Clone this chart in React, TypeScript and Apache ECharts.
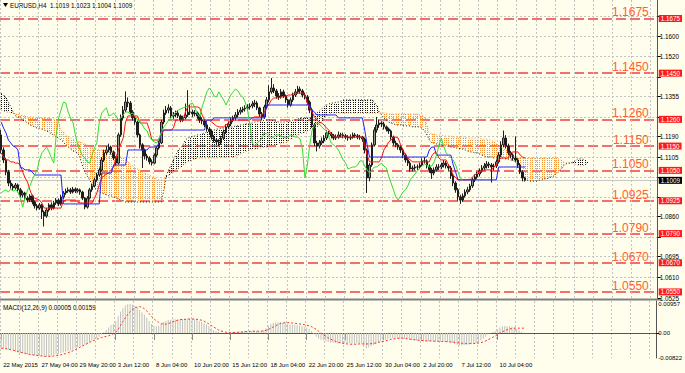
import React, { useEffect, useRef } from 'react';
import * as echarts from 'echarts';

// ---------- texts ----------
const symbolTitle = 'EURUSD,H4  1.1019 1.1023 1.1004 1.1009';
const macdTitle = 'MACD(12,26,9) 0.00005 0.00159';
const xLabels = ['22 May 2015', '27 May 04:00', '29 May 20:00', '3 Jun 12:00', '8 Jun 04:00', '10 Jun 20:00', '15 Jun 12:00', '18 Jun 04:00', '22 Jun 20:00', '25 Jun 12:00', '30 Jun 04:00', '2 Jul 20:00', '7 Jul 12:00', '10 Jul 04:00'];
const labelEvery = 16; // bars between time labels
const gridEvery = 8; // bars between vertical grid lines

// ---------- axes ----------
const priceTicks = [1.1685, 1.16, 1.152, 1.1435, 1.1355, 1.127, 1.119, 1.1105, 1.102, 1.094, 1.086, 1.0775, 1.0695, 1.061, 1.0525];
// tick labels not covered by the coloured price boxes
const priceTickLabels = [1.16, 1.152, 1.1355, 1.119, 1.1105, 1.086, 1.0695, 1.061, 1.0525];
const priceMin = 1.0525;
const priceMax = 1.1751;
const levels = [1.1675, 1.145, 1.126, 1.115, 1.105, 1.0925, 1.079, 1.067, 1.055];
const macdTicks = [0.00957, 0, -0.00822];
const macdMin = -0.00825;
const macdMax = 0.01056;
const slotCount = 275; // bar slots across chart width (incl. right shift)
const bidPrice = 1.1009;

// ---------- candles (H4) ----------
const firstOpen = 1.1196;
const closes = [
  1.1134, 1.1093, 1.1043, 1.0998, 1.0986, 1.0978, 1.099, 1.097, 1.0949, 1.0957,
  1.0936, 1.0928, 1.0945, 1.092, 1.0904, 1.0895, 1.0908, 1.0879, 1.0862, 1.0887,
  1.0908, 1.0895, 1.0916, 1.0928, 1.0912, 1.0941, 1.0957, 1.0965, 1.097, 1.0961,
  1.0973, 1.0965, 1.097, 1.0961, 1.0936, 1.0899, 1.0936, 1.097, 1.0986, 1.1011,
  1.1031, 1.1052, 1.1093, 1.1122, 1.1134, 1.1146, 1.1126, 1.1101, 1.108, 1.1196,
  1.1266, 1.1298, 1.1331, 1.1327, 1.129, 1.1266, 1.1249, 1.1196, 1.1155, 1.1134,
  1.1109, 1.1101, 1.1085, 1.108, 1.1113, 1.1142, 1.1163, 1.1249, 1.1286, 1.1298,
  1.1307, 1.1274, 1.1278, 1.1286, 1.1274, 1.1257, 1.1266, 1.1278, 1.129, 1.129,
  1.1282, 1.1286, 1.1274, 1.1257, 1.1253, 1.1237, 1.122, 1.1212, 1.1187, 1.1175,
  1.1167, 1.1163, 1.1183, 1.1208, 1.1229, 1.1241, 1.1257, 1.1266, 1.1278, 1.129,
  1.1298, 1.1303, 1.1307, 1.1311, 1.1315, 1.1323, 1.1327, 1.1307, 1.1282, 1.127,
  1.1311, 1.134, 1.1373, 1.1389, 1.1377, 1.1356, 1.1352, 1.1373, 1.1356, 1.134,
  1.1319, 1.134, 1.136, 1.1373, 1.1385, 1.1377, 1.136, 1.1352, 1.1331, 1.1298,
  1.1237, 1.1163, 1.115, 1.1163, 1.1171, 1.1183, 1.1204, 1.12, 1.1192, 1.1183,
  1.1187, 1.1196, 1.1196, 1.1192, 1.1187, 1.1183, 1.1187, 1.1196, 1.1192, 1.1187,
  1.1187, 1.1179, 1.1134, 1.1019, 1.1072, 1.1155, 1.1216, 1.1237, 1.1245, 1.1241,
  1.1229, 1.122, 1.1212, 1.1187, 1.1163, 1.1155, 1.1146, 1.1134, 1.1113, 1.1093,
  1.108, 1.1056, 1.106, 1.1064, 1.1064, 1.1072, 1.1089, 1.1089, 1.1068, 1.1052,
  1.1039, 1.1052, 1.1064, 1.1064, 1.1072, 1.108, 1.1068, 1.106, 1.1027, 1.0998,
  1.097, 1.0941, 1.0928, 1.0945, 1.0961, 1.097, 1.0986, 1.1011, 1.1023, 1.1035,
  1.1048, 1.106, 1.1068, 1.1076, 1.1072, 1.1064, 1.1068, 1.1085, 1.1113, 1.1155,
  1.1183, 1.115, 1.1122, 1.1113, 1.1101, 1.1093, 1.1072, 1.1043, 1.1019, 1.1009,
];
const highs = [
  1.1216, 1.1145, 1.1101, 1.1052, 1.101, 1.0995, 1.0998, 1.0996, 1.0978, 1.0966,
  1.0962, 1.0944, 1.0952, 1.095, 1.0926, 1.0912, 1.0916, 1.0912, 1.0885, 1.0895,
  1.0915, 1.0918, 1.0925, 1.0936, 1.0935, 1.095, 1.0965, 1.0975, 1.098, 1.0978,
  1.0982, 1.098, 1.0977, 1.0975, 1.0966, 1.094, 1.0944, 1.0978, 1.0995, 1.102,
  1.104, 1.1062, 1.1105, 1.1135, 1.115, 1.116, 1.1152, 1.1132, 1.1108, 1.1205,
  1.128, 1.1315, 1.1375, 1.135, 1.1335, 1.1298, 1.1275, 1.1255, 1.1202, 1.1162,
  1.114, 1.1118, 1.1108, 1.1095, 1.112, 1.115, 1.1172, 1.1258, 1.13, 1.1315,
  1.1322, 1.1315, 1.129, 1.1296, 1.1298, 1.128, 1.1275, 1.1325, 1.138, 1.132,
  1.13, 1.1298, 1.1292, 1.128, 1.1268, 1.1262, 1.1245, 1.1228, 1.1218, 1.1195,
  1.1182, 1.1178, 1.1192, 1.1218, 1.124, 1.1252, 1.1268, 1.1275, 1.129, 1.1302,
  1.131, 1.1312, 1.1318, 1.1322, 1.1326, 1.1335, 1.134, 1.1335, 1.1312, 1.129,
  1.132, 1.1352, 1.14, 1.143, 1.1405, 1.1385, 1.1368, 1.1385, 1.1382, 1.1362,
  1.1345, 1.135, 1.137, 1.1385, 1.1398, 1.1395, 1.1385, 1.137, 1.136, 1.1338,
  1.1305, 1.1245, 1.1172, 1.1175, 1.1185, 1.1195, 1.1215, 1.1212, 1.1208, 1.12,
  1.1198, 1.121, 1.1205, 1.1205, 1.12, 1.1195, 1.1198, 1.1206, 1.1204, 1.12,
  1.1196, 1.1192, 1.1185, 1.114, 1.108, 1.1165, 1.1228, 1.127, 1.1258, 1.1252,
  1.125, 1.1235, 1.1226, 1.1218, 1.1193, 1.1172, 1.1162, 1.1152, 1.114, 1.112,
  1.11, 1.1088, 1.107, 1.1075, 1.1074, 1.1082, 1.11, 1.1105, 1.1095, 1.1075,
  1.106, 1.1062, 1.1075, 1.1076, 1.1082, 1.1092, 1.1088, 1.1075, 1.1068, 1.1035,
  1.1005, 1.0978, 1.095, 1.0955, 1.0972, 1.0982, 1.0995, 1.102, 1.1034, 1.1045,
  1.1058, 1.1072, 1.108, 1.1088, 1.1085, 1.108, 1.1078, 1.1095, 1.1125, 1.117,
  1.1214, 1.1195, 1.116, 1.113, 1.112, 1.119, 1.11, 1.108, 1.105, 1.1023,
];
const lows = [
  1.112, 1.108, 1.103, 1.0985, 1.0975, 1.0965, 1.097, 1.096, 1.094, 1.0938,
  1.0925, 1.0918, 1.092, 1.091, 1.0893, 1.0885, 1.0888, 1.085, 1.0819, 1.0855,
  1.088, 1.0886, 1.0889, 1.0908, 1.0903, 1.0905, 1.0933, 1.095, 1.0958, 1.0953,
  1.0955, 1.0957, 1.0958, 1.095, 1.0928, 1.089, 1.0893, 1.093, 1.0962, 1.098,
  1.1003, 1.1024, 1.1045, 1.1085, 1.1112, 1.1125, 1.1115, 1.1092, 1.107, 1.1075,
  1.1188, 1.1255, 1.129, 1.131, 1.128, 1.1255, 1.1238, 1.1185, 1.114, 1.106,
  1.1095, 1.109, 1.1075, 1.107, 1.1075, 1.1105, 1.1135, 1.1158, 1.124, 1.1278,
  1.1285, 1.1265, 1.1262, 1.1268, 1.1265, 1.1248, 1.125, 1.126, 1.127, 1.1278,
  1.127, 1.1272, 1.1262, 1.1245, 1.124, 1.1228, 1.121, 1.1198, 1.1176, 1.1165,
  1.1158, 1.115, 1.1155, 1.1175, 1.12, 1.122, 1.1232, 1.1248, 1.1255, 1.1268,
  1.128, 1.1288, 1.1292, 1.1295, 1.13, 1.1305, 1.131, 1.1298, 1.127, 1.1258,
  1.1262, 1.1302, 1.133, 1.1365, 1.1368, 1.1345, 1.134, 1.1345, 1.1348, 1.1328,
  1.1308, 1.1312, 1.1332, 1.1352, 1.1365, 1.1366, 1.135, 1.1342, 1.132, 1.1285,
  1.1225, 1.115, 1.1128, 1.114, 1.1155, 1.1162, 1.1175, 1.119, 1.1182, 1.1175,
  1.1175, 1.118, 1.1185, 1.1182, 1.1178, 1.1172, 1.1175, 1.118, 1.1183, 1.1178,
  1.1176, 1.1168, 1.112, 1.0957, 1.1005, 1.1065, 1.1148, 1.1205, 1.1225, 1.1228,
  1.1218, 1.121, 1.12, 1.1176, 1.1152, 1.1145, 1.1135, 1.1122, 1.11, 1.1082,
  1.1068, 1.1045, 1.1046, 1.105, 1.1052, 1.1055, 1.1065, 1.1078, 1.1058, 1.104,
  1.1015, 1.103, 1.1045, 1.1052, 1.1055, 1.1062, 1.1058, 1.1048, 1.1015, 1.0985,
  1.0958, 1.0925, 1.0912, 1.092, 1.0938, 1.0952, 1.0962, 1.0978, 1.1002, 1.1015,
  1.1025, 1.104, 1.105, 1.1058, 1.106, 1.1, 1.105, 1.106, 1.1078, 1.1105,
  1.1145, 1.114, 1.1112, 1.11, 1.109, 1.1085, 1.106, 1.1035, 1.1005, 1.1004,
];

// ---------- Ichimoku (9,26,52) ----------
const tenkan = [
  1.1122, 1.1105, 1.1093, 1.1093, 1.1085, 1.1085, 1.108, 1.108, 1.1072, 1.1043,
  1.1019, 1.1002, 1.097, 1.0945, 1.0936, 1.0932, 1.0928, 1.0916, 1.0895, 1.0895,
  1.0895, 1.0895, 1.0895, 1.0895, 1.0895, 1.0895, 1.0924, 1.0928, 1.0928, 1.0928,
  1.0928, 1.0928, 1.092, 1.0916, 1.0916, 1.0916, 1.0916, 1.0916, 1.0916, 1.0936,
  1.0957, 1.099, 1.1019, 1.1027, 1.1035, 1.1039, 1.1052, 1.1064, 1.1101, 1.1134,
  1.1159, 1.1183, 1.1249, 1.1274, 1.1274, 1.1274, 1.1274, 1.1274, 1.1245, 1.1245,
  1.1245, 1.1245, 1.1216, 1.1175, 1.1175, 1.1175, 1.1175, 1.1196, 1.1216, 1.1216,
  1.1216, 1.1216, 1.1224, 1.1257, 1.1257, 1.1257, 1.1257, 1.129, 1.1311, 1.1311,
  1.1311, 1.1311, 1.1311, 1.1307, 1.1278, 1.1257, 1.1257, 1.1257, 1.1249, 1.1241,
  1.1233, 1.1229, 1.1229, 1.1229, 1.1237, 1.1245, 1.1253, 1.1257, 1.1257, 1.1257,
  1.1257, 1.1257, 1.1257, 1.1257, 1.1257, 1.1266, 1.127, 1.127, 1.127, 1.1278,
  1.129, 1.1307, 1.1323, 1.134, 1.1348, 1.1348, 1.1348, 1.1352, 1.1352, 1.1356,
  1.136, 1.136, 1.1364, 1.1368, 1.1368, 1.1368, 1.1368, 1.136, 1.1327, 1.1307,
  1.129, 1.127, 1.1257, 1.1249, 1.1245, 1.1237, 1.1224, 1.1216, 1.12, 1.1187,
  1.1187, 1.1187, 1.1187, 1.1187, 1.1187, 1.1187, 1.1187, 1.1187, 1.1187, 1.1187,
  1.1187, 1.1187, 1.1155, 1.1113, 1.1085, 1.1085, 1.1085, 1.1085, 1.1085, 1.1101,
  1.1134, 1.115, 1.1167, 1.1175, 1.1187, 1.1187, 1.1183, 1.1155, 1.1134, 1.1113,
  1.1101, 1.1093, 1.1085, 1.1085, 1.1085, 1.1085, 1.1085, 1.1085, 1.1085, 1.1085,
  1.1109, 1.1122, 1.1122, 1.1101, 1.1093, 1.1093, 1.1093, 1.1072, 1.1052, 1.1031,
  1.1019, 1.1011, 1.1011, 1.1011, 1.1011, 1.1011, 1.1011, 1.1023, 1.1031, 1.1039,
  1.1043, 1.1048, 1.1052, 1.1052, 1.1052, 1.1052, 1.1064, 1.1072, 1.1093, 1.1101,
  1.1101, 1.1101, 1.1101, 1.1122, 1.1126, 1.1126, 1.1126, 1.1113, 1.1105, 1.1101,
];
const kijun = [
  1.1249, 1.1224, 1.1204, 1.1175, 1.1163, 1.115, 1.1146, 1.1134, 1.106, 1.106,
  1.1052, 1.1052, 1.1052, 1.1043, 1.1031, 1.1031, 1.1031, 1.1031, 1.1031, 1.1031,
  1.1031, 1.1031, 1.1031, 1.1031, 1.1031, 1.1031, 1.0912, 1.0912, 1.0912, 1.0912,
  1.0912, 1.0912, 1.0912, 1.0912, 1.0912, 1.0912, 1.0912, 1.0912, 1.0912, 1.0912,
  1.0912, 1.0912, 1.1039, 1.1039, 1.1039, 1.1039, 1.1039, 1.1072, 1.1072, 1.1072,
  1.1072, 1.1072, 1.1072, 1.1134, 1.1134, 1.1134, 1.1134, 1.1134, 1.1134, 1.1134,
  1.1134, 1.1134, 1.1146, 1.1146, 1.1146, 1.1146, 1.1163, 1.1216, 1.1216, 1.1216,
  1.1216, 1.1216, 1.1216, 1.1216, 1.1216, 1.1216, 1.1216, 1.1216, 1.1216, 1.1216,
  1.1216, 1.1216, 1.1216, 1.1216, 1.1216, 1.1216, 1.1257, 1.1257, 1.1257, 1.1266,
  1.1266, 1.1266, 1.1266, 1.1266, 1.1266, 1.1266, 1.1266, 1.1266, 1.1266, 1.1266,
  1.1266, 1.1266, 1.1266, 1.1266, 1.1266, 1.1266, 1.1266, 1.1266, 1.1266, 1.1266,
  1.1266, 1.1319, 1.1319, 1.1319, 1.1319, 1.1319, 1.1319, 1.1319, 1.1319, 1.1319,
  1.1319, 1.1319, 1.1319, 1.1319, 1.1319, 1.1319, 1.1319, 1.1319, 1.1319, 1.1319,
  1.1298, 1.129, 1.1278, 1.1278, 1.1278, 1.1278, 1.1278, 1.1278, 1.1278, 1.1278,
  1.1278, 1.1266, 1.1266, 1.1266, 1.1266, 1.1266, 1.1266, 1.1266, 1.1266, 1.1266,
  1.1266, 1.1266, 1.1216, 1.1155, 1.1105, 1.1105, 1.1105, 1.1105, 1.1105, 1.1105,
  1.1105, 1.1105, 1.1105, 1.1105, 1.1105, 1.1105, 1.1105, 1.1105, 1.1105, 1.1105,
  1.1105, 1.1105, 1.1105, 1.1105, 1.1105, 1.1105, 1.1105, 1.1105, 1.1105, 1.1134,
  1.1146, 1.1146, 1.1113, 1.1113, 1.1113, 1.1113, 1.1113, 1.1113, 1.1113, 1.1072,
  1.1043, 1.1011, 1.1011, 1.1011, 1.1011, 1.1011, 1.1011, 1.1011, 1.1011, 1.1011,
  1.1011, 1.1011, 1.1011, 1.1011, 1.1011, 1.1011, 1.1011, 1.1011, 1.1064, 1.1064,
  1.1064, 1.1064, 1.1064, 1.1064, 1.1064, 1.1064, 1.1064, 1.1064, 1.1064, 1.1064,
];
// Senkou spans, plotted 26 bars ahead (246 slots)
const spanA = [
  1.1298, 1.1294, 1.129, 1.129, 1.1286, 1.1286, 1.1282, 1.1282, 1.1278, 1.1274,
  1.1274, 1.127, 1.127, 1.127, 1.127, 1.1266, 1.1266, 1.1266, 1.1266, 1.1266,
  1.1266, 1.1261, 1.1261, 1.1257, 1.1249, 1.1216, 1.1208, 1.1196, 1.1187, 1.1183,
  1.1179, 1.1175, 1.1171, 1.1167, 1.1163, 1.1159, 1.1154, 1.1146, 1.1142, 1.1138,
  1.1134, 1.1134, 1.1134, 1.1134, 1.113, 1.113, 1.1126, 1.1122, 1.1113, 1.1109,
  1.1105, 1.1101, 1.1093, 1.1085, 1.1076, 1.1068, 1.106, 1.1056, 1.1052, 1.1043,
  1.1039, 1.1035, 1.1031, 1.1023, 1.1019, 1.1015, 1.101, 1.101, 1.1015, 1.1019,
  1.1031, 1.1039, 1.1043, 1.1052, 1.1056, 1.1064, 1.1072, 1.108, 1.1085, 1.1089,
  1.1093, 1.1097, 1.1101, 1.1101, 1.1101, 1.1101, 1.1101, 1.1101, 1.1101, 1.1101,
  1.1101, 1.1101, 1.1105, 1.1105, 1.1105, 1.1105, 1.1105, 1.1105, 1.1109, 1.1113,
  1.1117, 1.1122, 1.1126, 1.113, 1.1134, 1.1134, 1.1138, 1.1138, 1.1142, 1.1142,
  1.1146, 1.1146, 1.115, 1.115, 1.1154, 1.1154, 1.1159, 1.1159, 1.1163, 1.1163,
  1.1171, 1.1179, 1.1187, 1.1191, 1.1196, 1.12, 1.1204, 1.1208, 1.1212, 1.1216,
  1.122, 1.1224, 1.1229, 1.1237, 1.1253, 1.1266, 1.1274, 1.1282, 1.1286, 1.1286,
  1.1286, 1.1286, 1.1286, 1.1286, 1.1286, 1.1286, 1.1286, 1.1286, 1.1286, 1.1286,
  1.1286, 1.1286, 1.1286, 1.1286, 1.1286, 1.1286, 1.1286, 1.1286, 1.129, 1.1286,
  1.1286, 1.1286, 1.1282, 1.1282, 1.1282, 1.1282, 1.1282, 1.1282, 1.1282, 1.1282,
  1.1282, 1.1282, 1.1282, 1.1282, 1.1282, 1.1278, 1.1278, 1.1266, 1.1233, 1.1204,
  1.12, 1.12, 1.1196, 1.1196, 1.1196, 1.1191, 1.1191, 1.1191, 1.1191, 1.1187,
  1.1187, 1.1187, 1.1187, 1.1187, 1.1187, 1.1183, 1.1183, 1.1183, 1.1183, 1.1183,
  1.1183, 1.1179, 1.1179, 1.1179, 1.1175, 1.1175, 1.1167, 1.1159, 1.1154, 1.1146,
  1.1138, 1.1134, 1.1126, 1.1113, 1.1109, 1.1105, 1.1101, 1.1101, 1.1101, 1.1101,
  1.1101, 1.1101, 1.1101, 1.1101, 1.1101, 1.1101, 1.1101, 1.1101, 1.1101, 1.1101,
  1.1101, 1.1101, 1.1101, 1.1097, 1.1093, 1.1085, 1.108, 1.108, 1.108, 1.108,
  1.1076, 1.1072, 1.1068, 1.1068, 1.1072, 1.108,
];
const spanB = [
  1.1368, 1.136, 1.1348, 1.1331, 1.1311, 1.129, 1.1274, 1.127, 1.1266, 1.1257,
  1.1253, 1.1245, 1.1237, 1.1233, 1.1229, 1.1224, 1.1224, 1.122, 1.1216, 1.1212,
  1.1208, 1.12, 1.1196, 1.1187, 1.1183, 1.1175, 1.1167, 1.1154, 1.1146, 1.1138,
  1.113, 1.1126, 1.1122, 1.1101, 1.1068, 1.1043, 1.1027, 1.101, 1.0994, 1.0978,
  1.097, 1.0961, 1.0957, 1.0953, 1.0949, 1.0945, 1.0945, 1.0941, 1.0936, 1.0932,
  1.0928, 1.0924, 1.092, 1.092, 1.092, 1.092, 1.092, 1.092, 1.092, 1.092,
  1.092, 1.092, 1.092, 1.092, 1.092, 1.092, 1.092, 1.092, 1.097, 1.1027,
  1.1052, 1.1072, 1.1093, 1.1113, 1.1134, 1.1142, 1.1154, 1.1175, 1.1183, 1.1187,
  1.1191, 1.1191, 1.1196, 1.1196, 1.12, 1.1204, 1.1208, 1.1212, 1.1216, 1.1216,
  1.122, 1.122, 1.1224, 1.1224, 1.1224, 1.1229, 1.1229, 1.1229, 1.1233, 1.1233,
  1.1237, 1.1237, 1.1241, 1.1241, 1.1245, 1.1245, 1.1249, 1.1249, 1.1253, 1.1253,
  1.1257, 1.1257, 1.1257, 1.1257, 1.1253, 1.1253, 1.1249, 1.1249, 1.1249, 1.1249,
  1.1253, 1.1253, 1.1257, 1.1257, 1.1261, 1.1266, 1.1266, 1.1266, 1.1266, 1.1266,
  1.127, 1.1278, 1.1286, 1.1294, 1.1303, 1.1311, 1.1319, 1.1323, 1.1327, 1.1327,
  1.1331, 1.1331, 1.1335, 1.134, 1.134, 1.134, 1.134, 1.134, 1.134, 1.134,
  1.134, 1.134, 1.134, 1.134, 1.134, 1.134, 1.1331, 1.1315, 1.129, 1.1278,
  1.1266, 1.1257, 1.1249, 1.1245, 1.1241, 1.1237, 1.1237, 1.1237, 1.1233, 1.1233,
  1.1233, 1.1233, 1.1229, 1.1229, 1.1229, 1.1229, 1.1224, 1.1212, 1.1196, 1.1175,
  1.1163, 1.1163, 1.1159, 1.1159, 1.1154, 1.1154, 1.115, 1.115, 1.1146, 1.1146,
  1.1142, 1.1142, 1.1138, 1.1138, 1.1134, 1.113, 1.1126, 1.1126, 1.1122, 1.1122,
  1.1117, 1.1113, 1.1109, 1.1105, 1.1105, 1.1105, 1.1101, 1.1101, 1.1101, 1.1101,
  1.1101, 1.1097, 1.1097, 1.1093, 1.1093, 1.1085, 1.1068, 1.1052, 1.1031, 1.1019,
  1.101, 1.1006, 1.1006, 1.1006, 1.1006, 1.101, 1.101, 1.1015, 1.1015, 1.1019,
  1.1023, 1.1027, 1.1035, 1.1043, 1.1056, 1.1068, 1.1076, 1.108, 1.108, 1.1085,
  1.1089, 1.1097, 1.1097, 1.1097, 1.1093, 1.1085,
];
const chikouShift = 26; // Chikou span = close drawn 26 bars back

// ---------- MACD (12,26,9) ----------
const macdMain = [
  -0.005, -0.0052, -0.0054, -0.0055, -0.0057, -0.0058, -0.0062, -0.0064, -0.0066, -0.0068,
  -0.007, -0.0071, -0.0072, -0.0073, -0.0074, -0.0075, -0.0076, -0.0076, -0.0077, -0.0077,
  -0.0076, -0.0075, -0.0073, -0.007, -0.0068, -0.0066, -0.0064, -0.0062, -0.006, -0.0058,
  -0.0055, -0.005, -0.0047, -0.0044, -0.0041, -0.0038, -0.0036, -0.003, -0.0025, -0.0021,
  -0.0017, -0.0012, -0.0005, 0.0002, 0.001, 0.0018, 0.0026, 0.003, 0.0038, 0.0055,
  0.007, 0.0082, 0.0091, 0.0095, 0.0096, 0.0094, 0.009, 0.0084, 0.0076, 0.0068,
  0.006, 0.005, 0.004, 0.003, 0.0024, 0.0022, 0.0024, 0.003, 0.0036, 0.004,
  0.0043, 0.0044, 0.0045, 0.0045, 0.0045, 0.0045, 0.0046, 0.0046, 0.0047, 0.0047,
  0.0046, 0.0045, 0.0043, 0.004, 0.0036, 0.0032, 0.0028, 0.0022, 0.0016, 0.001,
  0.0006, 0.0003, 0.0001, 0.0, 0.0, 0.0001, 0.0002, 0.0003, 0.0004, 0.0005,
  0.0005, 0.0006, 0.0006, 0.0007, 0.0007, 0.0007, 0.0008, 0.0007, 0.0006, 0.0006,
  0.001, 0.0016, 0.0024, 0.003, 0.0034, 0.0035, 0.0035, 0.0036, 0.0035, 0.0034,
  0.003, 0.0028, 0.0028, 0.0027, 0.0026, 0.0025, 0.0023, 0.0021, 0.0018, 0.0014,
  0.0006, -0.0004, -0.0012, -0.0018, -0.0022, -0.0025, -0.0027, -0.003, -0.0031, -0.0032,
  -0.0033, -0.0034, -0.0034, -0.0034, -0.0034, -0.0034, -0.0034, -0.0034, -0.0034, -0.0034,
  -0.0034, -0.0035, -0.004, -0.005, -0.0048, -0.0044, -0.004, -0.0036, -0.0032, -0.0028,
  -0.0025, -0.0022, -0.002, -0.0018, -0.0017, -0.0017, -0.0017, -0.0017, -0.0018, -0.0019,
  -0.002, -0.0022, -0.0023, -0.0024, -0.0025, -0.0026, -0.0026, -0.0027, -0.0027, -0.0028,
  -0.0028, -0.0028, -0.0028, -0.0028, -0.0029, -0.0029, -0.003, -0.003, -0.0031, -0.0033,
  -0.0036, -0.0039, -0.0041, -0.0041, -0.004, -0.0039, -0.0038, -0.0036, -0.0035, -0.0034,
  -0.003, -0.0024, -0.0018, -0.0012, -0.0006, -0.0001, 0.0003, 0.0006, 0.0012, 0.0018,
  0.0022, 0.0023, 0.0022, 0.0022, 0.0021, 0.0018, 0.0013, 0.0009, 0.0004, 0.00005,
];
const macdSignal = [
  -0.005, -0.0051, -0.0052, -0.0053, -0.0055, -0.0057, -0.0059, -0.0061, -0.0063, -0.0065,
  -0.0067, -0.0069, -0.0071, -0.0072, -0.0073, -0.0074, -0.0075, -0.0076, -0.0077, -0.0077,
  -0.0077, -0.0077, -0.0076, -0.0075, -0.0074, -0.0072, -0.007, -0.0068, -0.0065, -0.0062,
  -0.0059, -0.0055, -0.0051, -0.0047, -0.0043, -0.0039, -0.0035, -0.0031, -0.0027, -0.0024,
  -0.0021, -0.0018, -0.0015, -0.0013, -0.0011, -0.0009, -0.0006, -0.0002, 0.0003, 0.0012,
  0.0025, 0.0038, 0.005, 0.0061, 0.007, 0.0078, 0.0083, 0.0086, 0.0087, 0.0085,
  0.008, 0.0073, 0.0064, 0.0055, 0.0047, 0.004, 0.0035, 0.0031, 0.0029, 0.0029,
  0.0031, 0.0034, 0.0037, 0.004, 0.0042, 0.0044, 0.0045, 0.0045, 0.0046, 0.0046,
  0.0046, 0.0046, 0.0045, 0.0044, 0.0042, 0.0039, 0.0035, 0.003, 0.0025, 0.002,
  0.0015, 0.001, 0.0007, 0.0005, 0.0003, 0.0002, 0.0002, 0.0002, 0.0002, 0.0002,
  0.0003, 0.0003, 0.0004, 0.0005, 0.0005, 0.0006, 0.0006, 0.0006, 0.0006, 0.0006,
  0.0007, 0.0009, 0.0012, 0.0016, 0.002, 0.0024, 0.0028, 0.0031, 0.0033, 0.0034,
  0.0034, 0.0034, 0.0033, 0.0032, 0.0031, 0.003, 0.0029, 0.0028, 0.0026, 0.0024,
  0.0021, 0.0017, 0.0012, 0.0006, 0.0, -0.0006, -0.0011, -0.0016, -0.002, -0.0024,
  -0.0027, -0.003, -0.0032, -0.0034, -0.0035, -0.0036, -0.0037, -0.0037, -0.0037, -0.0037,
  -0.0036, -0.0036, -0.0036, -0.0036, -0.0036, -0.0035, -0.0034, -0.0033, -0.0031, -0.0029,
  -0.0028, -0.0026, -0.0024, -0.0022, -0.002, -0.0019, -0.0018, -0.0017, -0.0017, -0.0018,
  -0.0019, -0.002, -0.0021, -0.0022, -0.0023, -0.0024, -0.0025, -0.0025, -0.0026, -0.0026,
  -0.0026, -0.0027, -0.0027, -0.0027, -0.0028, -0.0028, -0.0028, -0.0029, -0.0029, -0.003,
  -0.0031, -0.0032, -0.0033, -0.0034, -0.0034, -0.0035, -0.0035, -0.0035, -0.0035, -0.0034,
  -0.0033, -0.0032, -0.0029, -0.0026, -0.0022, -0.0018, -0.0014, -0.001, -0.0005, 0.0,
  0.0004, 0.0008, 0.0011, 0.0013, 0.0015, 0.0016, 0.0016, 0.0016, 0.0016, 0.00159,
];

// ---------- colours ----------
const BG = '#fffdeb';
const GRID = '#c3c3c3';
const AXIS = '#555555';
const LEVEL_LINE = '#f46e6e';
const LEVEL_TEXT = '#ff6030';
const CLOUD_UP = '#f7943a';
const CLOUD_DOWN = '#111111';
const DOT_STEP = 2; // vertical pitch of the cloud hatching dots

function buildOption() {
  const categories = Array.from({ length: slotCount }, (_, i) => String(i));
  const opens = [firstOpen, ...closes.slice(0, -1)];
  const candles = closes.map((c, i) => [opens[i], c, lows[i], highs[i]]);
  const cloud = spanA.map((a, i) => [i, a, spanB[i]]);
  const chikou = closes.slice(chikouShift);
  const isLabel = (i: number) => i % labelEvery === 0 && i / labelEvery < xLabels.length;
  const isGrid = (i: number) => i % gridEvery === 0;
  const dotted = { color: GRID, type: [2, 2], width: 1 };
  const small = { fontFamily: 'Liberation Sans', fontSize: 6.3, color: '#000' };
  const priceAxisBase = {
    type: 'value', gridIndex: 0, position: 'right', min: priceMin, max: priceMax, scale: true,
    axisLine: { show: false },
  };

  return {
    animation: false,
    backgroundColor: BG,
    textStyle: { fontFamily: 'Liberation Sans' },
    grid: [
      { left: 0, top: 0, width: 660, height: 298 },
      { left: 0, top: 301, width: 660, height: 57 },
    ],
    xAxis: [
      {
        type: 'category', gridIndex: 0, data: categories, boundaryGap: true,
        axisLine: { show: false }, axisTick: { show: false }, axisLabel: { show: false },
        splitLine: { show: true, interval: isGrid, lineStyle: dotted },
      },
      {
        type: 'category', gridIndex: 1, data: categories, boundaryGap: true,
        axisLine: { show: true, lineStyle: { color: AXIS, width: 1 } },
        axisTick: { show: true, interval: isLabel, alignWithLabel: true, length: 7, lineStyle: { color: '#888' } },
        axisLabel: {
          ...small, fontSize: 6, interval: isLabel, align: 'left', margin: 4, padding: [0, 0, 0, 2],
          formatter: (v: string) => xLabels[Number(v) / labelEvery] ?? '',
        },
        splitLine: { show: true, interval: isGrid, lineStyle: dotted },
      },
    ],
    yAxis: [
      // 0: price scale, tick labels and dotted grid
      {
        ...priceAxisBase,
        axisLine: { show: true, lineStyle: { color: AXIS, width: 1 } },
        axisTick: { show: true, length: 3, customValues: priceTicks, lineStyle: { color: '#000' } },
        axisLabel: { ...small, margin: 2, customValues: priceTickLabels, formatter: (v: number) => v.toFixed(4) },
        splitLine: { show: true, lineStyle: dotted },
      },
      // 1: support / resistance levels: dashed lines + red price boxes
      {
        ...priceAxisBase,
        axisTick: { show: false, customValues: levels },
        splitLine: { show: true, lineStyle: { color: LEVEL_LINE, width: 2, type: [10, 4] } },
        axisLabel: {
          ...small, color: '#fff', margin: 1, backgroundColor: '#ff1a1a', padding: [1, 2, 0, 2],
          customValues: levels, formatter: (v: number) => v.toFixed(4),
        },
      },
      // 2: bid line + black price box
      {
        ...priceAxisBase,
        axisTick: { show: false, customValues: [bidPrice] },
        splitLine: { show: true, lineStyle: { color: '#c8c8c8', width: 1, type: 'solid' } },
        axisLabel: {
          ...small, color: '#fff', margin: 1, backgroundColor: '#000', padding: [1, 2, 0, 2],
          customValues: [bidPrice], formatter: (v: number) => v.toFixed(4),
        },
      },
      // 3: big level captions drawn inside the plot
      {
        ...priceAxisBase,
        axisTick: { show: false }, splitLine: { show: false },
        axisLabel: {
          inside: true, margin: 9, customValues: levels, verticalAlign: 'bottom',
          fontFamily: 'Liberation Sans', fontSize: 12, color: LEVEL_TEXT,
          formatter: (v: number) => v.toFixed(4),
        },
      },
      // 4: MACD scale
      {
        type: 'value', gridIndex: 1, position: 'right', min: macdMin, max: macdMax,
        axisLine: { show: true, lineStyle: { color: AXIS, width: 1 } },
        axisTick: { show: true, length: 3, customValues: [0], lineStyle: { color: '#000' } },
        axisLabel: {
          ...small, fontSize: 6, margin: 2, customValues: macdTicks,
          formatter: (v: number) => (v === 0 ? '0.00' : v.toFixed(5)),
        },
        splitLine: { show: true, lineStyle: dotted },
      },
    ],
    series: [
      {
        type: 'custom', name: 'cloud', xAxisIndex: 0, yAxisIndex: 0, silent: true,
        data: cloud, encode: { x: 0, y: [1, 2] },
        renderItem: (_p: any, api: any) => {
          const i = api.value(0);
          const a = api.value(1);
          const b = api.value(2);
          const pa = api.coord([i, a]);
          const pb = api.coord([i, b]);
          const x = Math.round(pa[0]) + 0.5;
          const top = Math.ceil(Math.min(pa[1], pb[1]) / DOT_STEP) * DOT_STEP;
          const bottom = Math.max(pa[1], pb[1]);
          return {
            type: 'line',
            shape: { x1: x, y1: top, x2: x, y2: Math.max(top, bottom) },
            style: { stroke: a >= b ? CLOUD_UP : CLOUD_DOWN, lineWidth: 1, lineDash: [1, DOT_STEP - 1] },
          };
        },
      },
      {
        type: 'line', name: 'Senkou A', data: spanA, symbol: 'none', silent: true,
        lineStyle: { color: CLOUD_UP, width: 1, type: [1, 2] },
      },
      {
        type: 'line', name: 'Senkou B', data: spanB, symbol: 'none', silent: true,
        lineStyle: { color: CLOUD_DOWN, width: 1, type: [1, 2] },
      },
      {
        type: 'candlestick', name: 'EURUSD', data: candles, barWidth: 2, silent: true,
        itemStyle: { color: '#8c9a86', color0: '#1e1e1e', borderColor: '#1e1e1e', borderColor0: '#1e1e1e', borderWidth: 1 },
      },
      { type: 'line', name: 'Tenkan', data: tenkan, symbol: 'none', silent: true, lineStyle: { color: '#ff1010', width: 1 } },
      { type: 'line', name: 'Kijun', data: kijun, symbol: 'none', silent: true, lineStyle: { color: '#2020ff', width: 1 } },
      { type: 'line', name: 'Chikou', data: chikou, symbol: 'none', silent: true, lineStyle: { color: '#33dd33', width: 1 } },
      {
        type: 'bar', name: 'MACD', xAxisIndex: 1, yAxisIndex: 4, data: macdMain, barWidth: 1, silent: true,
        itemStyle: { color: '#c0c0c0' },
      },
      {
        type: 'line', name: 'Signal', xAxisIndex: 1, yAxisIndex: 4, data: macdSignal, symbol: 'none', silent: true,
        lineStyle: { color: '#ff2a2a', width: 1, type: [2, 2] },
      },
    ],
    graphic: [
      { type: 'line', shape: { x1: 0, y1: 299.5, x2: 661, y2: 299.5 }, style: { stroke: '#808080', lineWidth: 2 }, silent: true },
      { type: 'polygon', shape: { points: [[3, 3], [8, 3], [5.5, 7]] }, style: { fill: '#000' }, silent: true },
      { type: 'text', x: 10, y: 2, style: { text: symbolTitle, fill: '#000', fontSize: 6.3, fontFamily: 'Liberation Sans' }, silent: true },
      { type: 'text', x: 3, y: 304, style: { text: macdTitle, fill: '#000', fontSize: 6.3, fontFamily: 'Liberation Sans' }, silent: true },
    ],
  };
}

export default function App() {
  const ref = useRef<HTMLDivElement>(null);
  useEffect(() => {
    if (!ref.current) return;
    const chart = echarts.init(ref.current, null, { renderer: 'svg' });
    chart.setOption(buildOption() as any);
    return () => chart.dispose();
  }, []);
  return (
    <div
      ref={ref}
      style={{ position: 'fixed', left: 0, top: 0, width: 685, height: 373, background: BG }}
    />
  );
}
